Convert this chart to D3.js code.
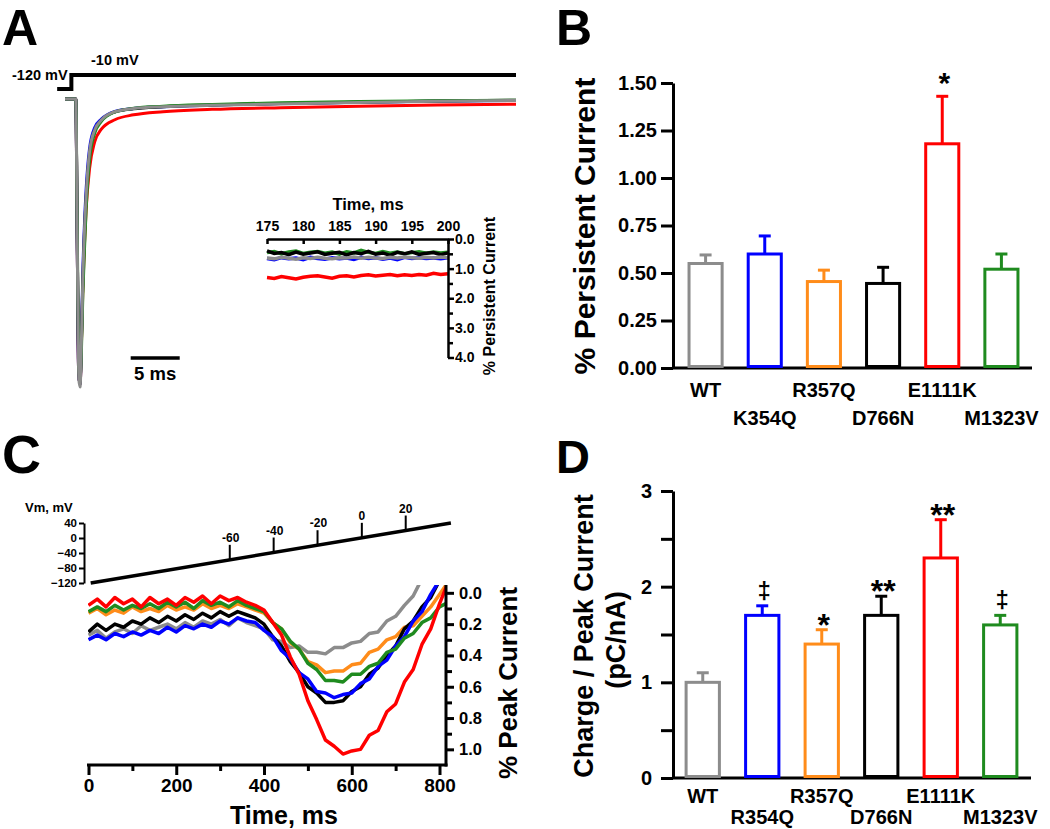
<!DOCTYPE html>
<html><head><meta charset="utf-8">
<script src="https://cdn.jsdelivr.net/npm/d3@7/dist/d3.min.js"></script>
<style>
body{margin:0;background:#fff}
text{font-family:"Liberation Sans",Arial,Helvetica,sans-serif;font-weight:bold;fill:#000}
</style>
</head><body>
<svg id="fig" width="1050" height="829"></svg>
<script>
// ---------------- DATA ----------------
const traceColors = {WT:"#8c8c8c", blue:"#0000ff", orange:"#ff8c1a", black:"#000000", red:"#ff0000", green:"#1f8b1f"};
const barColors = ["#8c8c8c","#0000ff","#ff8c1a","#000000","#ff0000","#1f8b1f"];

// Panel A : voltage step and normalized current traces
const stepT = [-0.8, 0.65, 0.65, 46];
const stepV = [-120, -120, -10, -10];
const tA = [0, 1.1, 1.25, 1.4, 1.54, 1.67, 1.82, 1.99, 2.16, 2.51, 3.02, 3.71, 5.09, 7, 10, 15, 22, 30, 38, 46];
const aRed   = [0, 0, -0.5, -0.96, -0.99, -0.86, -0.66, -0.50, -0.38, -0.24, -0.15, -0.105, -0.072, -0.055, -0.044, -0.036, -0.030, -0.025, -0.021, -0.018];
const aBlue  = [0, 0, -0.5, -0.96, -0.99, -0.84, -0.60, -0.43, -0.31, -0.17, -0.10, -0.070, -0.043, -0.033, -0.027, -0.021, -0.016, -0.011, -0.008, -0.005];
const aBlack = [0, 0, -0.5, -0.96, -0.99, -0.85, -0.63, -0.46, -0.34, -0.19, -0.11, -0.074, -0.045, -0.034, -0.027, -0.021, -0.016, -0.011, -0.007, -0.004];
const aGreen = [0, 0, -0.45, -0.93, -0.97, -0.88, -0.68, -0.52, -0.38, -0.21, -0.12, -0.078, -0.045, -0.032, -0.025, -0.019, -0.013, -0.009, -0.006, -0.004];
const aGray  = [0, 0, -0.5, -0.97, -1.0, -0.85, -0.62, -0.45, -0.33, -0.18, -0.108, -0.073, -0.044, -0.033, -0.027, -0.022, -0.017, -0.012, -0.008, -0.005];
const scaleBarStart = 6.7, scaleBarLen = 5;

// Panel A inset : persistent current 175-200 ms
const tI = [175,176,177,178,179,180,181,182,183,184,185,186,187,188,189,190,191,192,193,194,195,196,197,198,199,200];
const iRed   = [1.30,1.33,1.27,1.31,1.35,1.29,1.26,1.24,1.28,1.32,1.26,1.24,1.28,1.23,1.21,1.25,1.22,1.20,1.24,1.21,1.23,1.20,1.22,1.16,1.20,1.17];
const iBlue  = [0.66,0.70,0.63,0.67,0.64,0.70,0.62,0.66,0.68,0.63,0.67,0.64,0.69,0.62,0.66,0.63,0.68,0.64,0.70,0.62,0.66,0.63,0.66,0.64,0.67,0.63];
const iGreen = [0.46,0.42,0.50,0.44,0.41,0.49,0.45,0.42,0.48,0.44,0.51,0.43,0.47,0.38,0.45,0.49,0.42,0.48,0.44,0.50,0.46,0.43,0.48,0.44,0.47,0.45];
const iBlack = [0.40,0.49,0.46,0.53,0.44,0.51,0.47,0.43,0.52,0.48,0.45,0.54,0.46,0.50,0.42,0.51,0.47,0.55,0.45,0.50,0.43,0.52,0.48,0.46,0.53,0.47];
const iGray  = [0.64,0.67,0.62,0.65,0.68,0.63,0.66,0.62,0.65,0.67,0.63,0.64,0.61,0.65,0.62,0.64,0.66,0.62,0.64,0.61,0.63,0.65,0.62,0.64,0.61,0.63];
const insetXTicks = [175,180,185,190,195,200];
const insetYTicks = [0,1,2,3,4];

// Panel B : % persistent current
const groupsB = ["WT","K354Q","R357Q","D766N","E1111K","M1323V"];
const persistMean = [0.55, 0.60, 0.455, 0.445, 1.18, 0.52];
const persistErr  = [0.045, 0.095, 0.06, 0.085, 0.25, 0.08];
const persistSig  = ["","","","","*",""];
const persistTicks = [0, 0.25, 0.5, 0.75, 1.0, 1.25, 1.5];

// Panel C : ramp currents
const rampT = [5, 826];
const rampV = [-120, 40];
const rampTickV = [-60, -40, -20, 0, 20];
const rampTickT = [322, 422, 522, 623, 723];
const vmTicks = [40, 0, -40, -80, -120];
const tC = [0,20,40,60,80,100,120,140,160,180,200,220,240,260,280,300,320,340,360,380,400,420,440,460,480,500,520,540,560,580,600,620,640,660,680,700,720,740,760,780,800,820];
const cGray   = [0.27,0.24,0.29,0.25,0.23,0.26,0.21,0.24,0.22,0.20,0.23,0.19,0.22,0.18,0.20,0.17,0.21,0.16,0.19,0.21,0.23,0.30,0.31,0.35,0.34,0.38,0.38,0.39,0.35,0.35,0.32,0.31,0.26,0.25,0.18,0.15,0.08,0.02,-0.09,null,null,null];
const cOrange = [0.13,0.10,0.14,0.11,0.13,0.09,0.12,0.10,0.12,0.08,0.11,0.09,0.11,0.07,0.10,0.08,0.10,0.07,0.09,0.11,0.13,0.19,0.23,0.32,0.36,0.44,0.46,0.51,0.50,0.50,0.46,0.45,0.38,0.36,0.30,0.28,0.22,0.21,0.15,0.09,0.01,-0.07];
const cBlack  = [0.25,0.20,0.24,0.20,0.22,0.18,0.20,0.16,0.19,0.15,0.18,0.14,0.17,0.13,0.16,0.12,0.15,0.12,0.14,0.16,0.20,0.28,0.34,0.44,0.51,0.60,0.64,0.70,0.70,0.69,0.63,0.60,0.52,0.48,0.40,0.34,0.23,0.18,0.09,0.03,-0.08,null];
const cBlue   = [0.30,0.27,0.30,0.26,0.28,0.25,0.27,0.24,0.26,0.22,0.25,0.21,0.23,0.20,0.22,0.18,0.20,0.16,0.18,0.19,0.24,0.28,0.37,0.42,0.51,0.55,0.63,0.64,0.67,0.65,0.64,0.58,0.55,0.47,0.43,0.34,0.28,0.18,0.12,0.01,-0.08,null];
const cGreen  = [0.12,0.09,0.12,0.08,0.11,0.08,0.10,0.07,0.10,0.06,0.09,0.06,0.10,0.05,0.08,0.06,0.09,0.05,0.08,0.10,0.12,0.19,0.23,0.31,0.36,0.45,0.49,0.56,0.56,0.57,0.52,0.52,0.47,0.45,0.38,0.36,0.29,0.26,0.19,0.16,0.09,0.06];
const cRed    = [0.08,0.04,0.09,0.03,0.07,0.04,0.09,0.03,0.07,0.04,0.08,0.03,0.06,0.02,0.07,0.02,0.05,0.03,0.06,0.08,0.11,0.19,0.27,0.41,0.52,0.69,0.81,0.94,0.98,1.03,1.01,1.00,0.91,0.88,0.76,0.71,0.57,0.49,0.33,0.23,0.07,-0.07];
const timeMajor = [0,200,400,600,800];
const timeMinor = [100,300,500,700];
const peakMajor = [0,0.2,0.4,0.6,0.8,1.0];
const peakMinor = [0.1,0.3,0.5,0.7,0.9];

// Panel D : charge / peak current
const groupsD = ["WT","R354Q","R357Q","D766N","E1111K","M1323V"];
const chargeMean = [1.0, 1.7, 1.4, 1.7, 2.3, 1.6];
const chargeErr  = [0.1, 0.1, 0.15, 0.2, 0.4, 0.1];
const chargeSig  = ["","‡","*","**","**","‡"];
const chargeTicks = [0, 0.5, 1, 1.5, 2, 2.5, 3];

// ---------------- DRAW ----------------
const svg = d3.select("#fig");
svg.append("rect").attr("width",1050).attr("height",829).attr("fill","#fff");

function label(g, x, y, s, fs, anchor, rot) {
  const t = g.append("text").attr("font-size", fs).attr("text-anchor", anchor || "start").text(s);
  if (rot) t.attr("transform", `translate(${x},${y}) rotate(${rot})`);
  else t.attr("x", x).attr("y", y);
  return t;
}
function styleAxis(sel, sw, fs) {
  sel.selectAll(".domain").attr("stroke","#000").attr("stroke-width",sw);
  sel.selectAll(".tick line").attr("stroke","#000").attr("stroke-width",sw);
  sel.selectAll(".tick text").attr("font-size",fs).attr("font-family",null).style("font-weight","bold").attr("fill","#000");
}

// Panel letters
label(svg, 2, 45, "A", 50);
label(svg, 556, 45, "B", 50);
label(svg, 2, 473, "C", 54);
label(svg, 556, 473, "D", 47);

// ===== Panel A =====
const gA = svg.append("g");
const xA = d3.scaleLinear().domain([0,46]).range([65,516]);
const yA = d3.scaleLinear().domain([-1,0]).range([387,99]);
const vA = d3.scaleLinear().domain([-120,-10]).range([89,75]);

gA.append("path")
  .attr("d", d3.line().x((d,i)=>xA(stepT[i])).y(d=>vA(d))(stepV))
  .attr("fill","none").attr("stroke","#000").attr("stroke-width",4).attr("stroke-linejoin","miter");
label(gA, 91, 65, "-10 mV", 14.5);
label(gA, 12, 80, "-120 mV", 14.5);

const lineA = d3.line().x((d,i)=>xA(tA[i])).y(d=>yA(d)).curve(d3.curveMonotoneX);
[[aRed,traceColors.red],[aBlue,traceColors.blue],[aBlack,traceColors.black],[aGreen,traceColors.green],[aGray,traceColors.WT]]
  .forEach(([arr,c])=>{
    gA.append("path").attr("d", lineA(arr)).attr("fill","none").attr("stroke",c).attr("stroke-width",3);
  });

gA.append("line").attr("x1",xA(scaleBarStart)).attr("x2",xA(scaleBarStart+scaleBarLen))
  .attr("y1",358).attr("y2",358).attr("stroke","#000").attr("stroke-width",3.5);
label(gA, xA(scaleBarStart+scaleBarLen/2), 380, "5 ms", 18.5, "middle");

// Inset
const gI = svg.append("g");
const xI = d3.scaleLinear().domain([175,200]).range([267,448]);
const yI = d3.scaleLinear().domain([0,4]).range([239,357.5]);
const lineI = d3.line().x((d,i)=>xI(tI[i])).y(d=>yI(d));
[[iBlue,traceColors.blue],[iGreen,traceColors.green],[iBlack,traceColors.black],[iGray,traceColors.WT],[iRed,traceColors.red]]
  .forEach(([arr,c])=>{
    gI.append("path").attr("d", lineI(arr)).attr("fill","none").attr("stroke",c).attr("stroke-width",3.5);
  });
const axIx = gI.append("g").attr("transform",`translate(0,${yI(0)})`)
  .call(d3.axisTop(xI).tickValues(insetXTicks).tickSize(-5).tickSizeOuter(0).tickPadding(8));
styleAxis(axIx, 2.5, 14);
const axIy = gI.append("g").attr("transform",`translate(${xI(200)},0)`)
  .call(d3.axisRight(yI).tickValues(insetYTicks).tickFormat(d3.format(".1f")).tickSize(6).tickSizeOuter(0).tickPadding(1));
styleAxis(axIy, 2.5, 14);
gI.append("g").attr("transform",`translate(${xI(200)},0)`)
  .call(d3.axisRight(yI).tickValues([0.5,1.5,2.5,3.5]).tickFormat("").tickSize(5).tickSizeOuter(0))
  .call(s=>{s.select(".domain").remove(); s.selectAll("line").attr("stroke","#000").attr("stroke-width",2.5);});
label(gI, 368, 210, "Time, ms", 16.5, "middle");
label(gI, 495, 296, "% Persistent Current", 16, "middle", -90);

// ===== Panel B =====
const gB = svg.append("g");
const xB = d3.scaleBand().domain(groupsB).range([676,1031]).paddingInner(0.39).paddingOuter(0.195);
const yB = d3.scaleLinear().domain([0,1.5]).range([368,83]);
const axB = gB.append("g").attr("transform","translate(673,0)")
  .call(d3.axisLeft(yB).tickValues(persistTicks).tickFormat(d3.format(".2f")).tickSize(12).tickSizeOuter(0).tickPadding(4));
styleAxis(axB, 3, 20);
gB.append("line").attr("x1",672).attr("x2",1032).attr("y1",yB(0)).attr("y2",yB(0)).attr("stroke","#000").attr("stroke-width",3);
groupsB.forEach((g,i)=>{
  const x0 = xB(g), w = xB.bandwidth(), cx = x0 + w/2;
  gB.append("rect").attr("x",x0+1.5).attr("y",yB(persistMean[i])).attr("width",w-3)
    .attr("height",yB(0)-yB(persistMean[i])-1.5).attr("fill","#fff").attr("stroke",barColors[i]).attr("stroke-width",3);
  gB.append("line").attr("x1",cx).attr("x2",cx).attr("y1",yB(persistMean[i])).attr("y2",yB(persistMean[i]+persistErr[i]))
    .attr("stroke",barColors[i]).attr("stroke-width",3);
  gB.append("line").attr("x1",cx-6).attr("x2",cx+6).attr("y1",yB(persistMean[i]+persistErr[i])).attr("y2",yB(persistMean[i]+persistErr[i]))
    .attr("stroke",barColors[i]).attr("stroke-width",3);
  label(gB, cx, i%2===0 ? 397 : 425, g, 20, "middle");
  if (persistSig[i]) label(gB, cx+2, yB(persistMean[i]+persistErr[i]) - 3, persistSig[i], 30, "middle");
});
label(gB, 595, 226, "% Persistent Current", 30, "middle", -90);

// ===== Panel C =====
const gC = svg.append("g");
const xC = d3.scaleLinear().domain([0,800]).range([88.5,439.5]);
const yC = d3.scaleLinear().domain([-0.05,1.1]).range([585,765]);
const yV = d3.scaleLinear().domain([-120,40]).range([583,523]);

// Vm axis and ramp
const axV = gC.append("g").attr("transform","translate(84,0)")
  .call(d3.axisLeft(yV).tickValues(vmTicks).tickSize(5).tickSizeOuter(0).tickPadding(2));
styleAxis(axV, 2, 11.5);
label(gC, 25, 512, "Vm, mV", 13);
gC.append("path").attr("d", d3.line().x((d,i)=>xC(rampT[i])).y(d=>yV(d))(rampV))
  .attr("fill","none").attr("stroke","#000").attr("stroke-width",3.5);
const rampAt = d3.scaleLinear().domain(rampT).range(rampV);
rampTickV.forEach((v,i)=>{
  const x = xC(rampTickT[i]), yb = yV(rampAt(rampTickT[i]));
  gC.append("line").attr("x1",x).attr("x2",x).attr("y1",yb).attr("y2",yb-15).attr("stroke","#000").attr("stroke-width",2);
  label(gC, x+(v<0?1:0), yb-18, String(v), 12, "middle");
});

// traces
gC.append("clipPath").attr("id","clipC").append("rect").attr("x",88).attr("y",585).attr("width",358).attr("height",180);
const gTr = gC.append("g").attr("clip-path","url(#clipC)");
const lineC = d3.line().defined(d=>d!==null).x((d,i)=>xC(tC[i])).y(d=>yC(d));
[[cGray,traceColors.WT],[cOrange,traceColors.orange],[cBlack,traceColors.black],[cBlue,traceColors.blue],[cGreen,traceColors.green],[cRed,traceColors.red]]
  .forEach(([arr,c])=>{
    gTr.append("path").attr("d", lineC(arr)).attr("fill","none").attr("stroke",c).attr("stroke-width",3.5).attr("stroke-linejoin","round");
  });

// time axis
const axT = gC.append("g").attr("transform",`translate(0,${yC(1.1)})`)
  .call(d3.axisBottom(xC).tickValues(timeMajor).tickSize(10).tickSizeOuter(0).tickPadding(4));
styleAxis(axT, 3, 19);
axT.select(".domain").remove();
gC.append("g").attr("transform",`translate(0,${yC(1.1)})`)
  .call(d3.axisBottom(xC).tickValues(timeMinor).tickFormat("").tickSize(6).tickSizeOuter(0))
  .call(s=>{s.select(".domain").remove(); s.selectAll("line").attr("stroke","#000").attr("stroke-width",3);});
gC.append("line").attr("x1",xC(0)-1.5).attr("x2",447.5).attr("y1",yC(1.1)).attr("y2",yC(1.1)).attr("stroke","#000").attr("stroke-width",3);
label(gC, 284, 824, "Time, ms", 25, "middle");

// peak current axis (right)
const axP = gC.append("g").attr("transform","translate(446,0)")
  .call(d3.axisRight(yC).tickValues(peakMajor).tickFormat(d3.format(".1f")).tickSize(8).tickSizeOuter(0).tickPadding(5));
styleAxis(axP, 3, 16.5);
axP.select(".domain").remove();
gC.append("g").attr("transform","translate(446,0)")
  .call(d3.axisRight(yC).tickValues(peakMinor).tickFormat("").tickSize(6).tickSizeOuter(0))
  .call(s=>{s.select(".domain").remove(); s.selectAll("line").attr("stroke","#000").attr("stroke-width",3);});
gC.append("line").attr("x1",446).attr("x2",446).attr("y1",yC(-0.05)).attr("y2",yC(1.1)+1.5).attr("stroke","#000").attr("stroke-width",3);
label(gC, 517, 683, "% Peak Current", 26, "middle", -90);

// ===== Panel D =====
const gD = svg.append("g");
const xD = d3.scaleBand().domain(groupsD).range([673,1030]).paddingInner(0.39).paddingOuter(0.195);
const yD = d3.scaleLinear().domain([0,3]).range([778,491]);
const axD = gD.append("g").attr("transform","translate(673,0)")
  .call(d3.axisLeft(yD).tickValues(chargeTicks).tickFormat(d=>Number.isInteger(d)?d:"").tickSize(12).tickSizeOuter(0).tickPadding(9));
styleAxis(axD, 3, 20);
gD.append("line").attr("x1",672).attr("x2",1031).attr("y1",yD(0)).attr("y2",yD(0)).attr("stroke","#000").attr("stroke-width",3);
groupsD.forEach((g,i)=>{
  const x0 = xD(g), w = xD.bandwidth(), cx = x0 + w/2;
  gD.append("rect").attr("x",x0+1.5).attr("y",yD(chargeMean[i])).attr("width",w-3)
    .attr("height",yD(0)-yD(chargeMean[i])-1.5).attr("fill","#fff").attr("stroke",barColors[i]).attr("stroke-width",3);
  const top = yD(chargeMean[i]+chargeErr[i]);
  gD.append("line").attr("x1",cx).attr("x2",cx).attr("y1",yD(chargeMean[i])).attr("y2",top)
    .attr("stroke",barColors[i]).attr("stroke-width",3);
  gD.append("line").attr("x1",cx-6).attr("x2",cx+6).attr("y1",top).attr("y2",top)
    .attr("stroke",barColors[i]).attr("stroke-width",3);
  label(gD, cx, i%2===0 ? 803 : 824, g, 20, "middle");
  const s = chargeSig[i];
  if (s === "‡") label(gD, cx+2, top-7, s, 24, "middle");
  else if (s) label(gD, cx+2, top+6, s, 32, "middle");
});
label(gD, 593, 636, "Charge / Peak Current", 27, "middle", -90);
label(gD, 625, 640, "(pC/nA)", 27, "middle", -90);
</script>
</body></html>
